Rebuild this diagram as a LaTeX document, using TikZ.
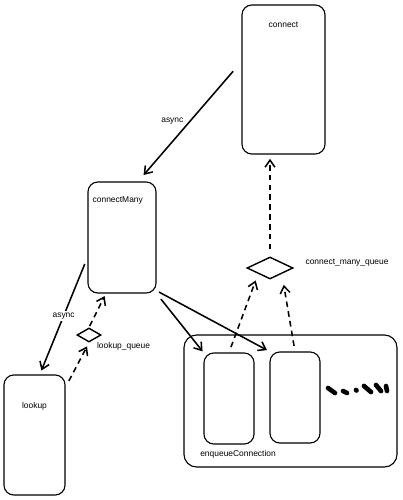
\documentclass[tikz,border=0pt]{standalone}
\usepackage{fontspec}
\setmainfont{Liberation Sans}
\usetikzlibrary{positioning,shapes.geometric,arrows.meta}
\begin{document}
\begin{tikzpicture}[x=0.025cm,y=-0.025cm,
    fn/.style={draw,rounded corners=7pt,line width=.8pt,inner sep=0pt},
    queue/.style={diamond,draw,line width=1pt,inner sep=0pt},
    txt/.style={font=\fontsize{6}{7}\selectfont,inner sep=1pt},
    call/.style={-{Straight Barb[length=5pt,width=7pt]},line width=1.1pt},
    wait/.style={call,dash pattern=on 4pt off 3pt}]

    \useasboundingbox (0,0) rectangle (402,500);

    % the boxes

    \node[fn,minimum width=2.075cm,minimum height=3.725cm] (connect) at (283.5,79.5) {};
    \node[fn,minimum width=1.7cm,minimum height=2.775cm] (cmany) at (122,237.5) {};
    \node[fn,minimum width=1.525cm,minimum height=3cm] (lookup) at (34.5,435) {};
    \node[fn,rounded corners=9pt,minimum width=5.325cm,minimum height=3.3cm] (enq) at (290.5,401) {};
    \node[fn,minimum width=1.25cm,minimum height=2.275cm] (job1) at (229,398.5) {};
    \node[fn,minimum width=1.25cm,minimum height=2.275cm] (job2) at (295,397.5) {};

    \node[queue,minimum width=1.15cm,minimum height=0.55cm] (cmq) at (270,268) {};
    \node[queue,minimum width=0.6cm,minimum height=0.35cm] (lq) at (89,335) {};

    % the texts

    \node[txt,below=0.4cm of connect.north] {connect};
    \node[txt,below=0.35cm of cmany.north,xshift=-3pt] {connectMany};
    \node[txt,below=0.65cm of lookup.north] {lookup};
    \node[txt,above right=0.2cm and 0.38cm of enq.south west] {enqueueConnection};
    \node[txt,right=0.55cm of cmq.north east] {connect\_many\_queue};
    \node[txt,below right=0.05cm and 0cm of lq.south east] {lookup\_queue};

    % the calls

    \draw[call,shorten <=9pt,shorten >=6pt] (connect.157) to
    node[txt,midway,left=3pt]{async} (cmany.74);
    \draw[call,shorten <=5pt,shorten >=3pt] (cmany.210) to
    node[txt,midway,fill=white,inner sep=1.5pt]{async} (lookup.85);
    \draw[call,shorten <=5pt,shorten >=1pt] (cmany.south east) to (job1.north west);
    \draw[call,shorten <=2pt,shorten >=2pt] (cmany.303) to (job2.north west);

    \draw[wait,shorten <=5pt,shorten >=3pt] (lookup.57) to (lq.south);
    \draw[wait,shorten <=1pt,shorten >=2pt] (lq.north) to (cmany.254);
    \draw[wait,shorten <=4pt,shorten >=5pt] (job1.north) to (cmq.south west);
    \draw[wait,shorten <=4pt,shorten >=8pt] (job2.north) to (cmq.south east);
    \draw[wait,shorten <=5pt,shorten >=3pt] (cmq.north) to (cmq.north |- connect.south);

    % the dots
    \draw[line width=3.3pt,line cap=round] (328,388) -- (335,393) (343,391) -- (347,393)
    (356,390) -- (356.5,390.5) (364,386) -- (371,392) (376,385) -- (381,391)
    (386,386) -- (387,391);
\end{tikzpicture}
\end{document}
